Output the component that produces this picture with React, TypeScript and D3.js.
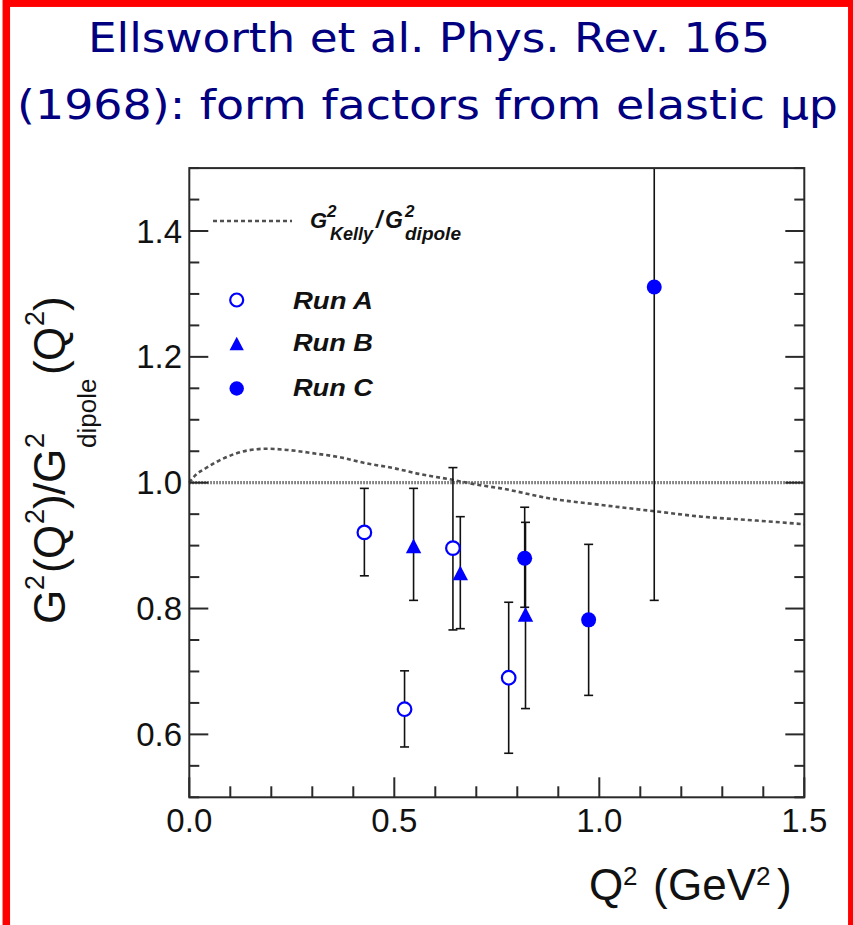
import React from "react";
import * as d3 from "d3";

// ---- data ----
const kellyQ2 = [0.0, 0.015, 0.04, 0.085, 0.14, 0.19, 0.24, 0.30, 0.37, 0.43, 0.50, 0.56, 0.63, 0.71, 0.76, 0.88, 1.0, 1.13, 1.25, 1.38, 1.5];
const kellyRatio = [1.0, 1.012, 1.023, 1.039, 1.051, 1.054, 1.052, 1.047, 1.04, 1.031, 1.023, 1.014, 1.006, 0.996, 0.991, 0.975, 0.965, 0.955, 0.946, 0.94, 0.934];

// [Q2, value, upper, lower]
const runA = [
  [0.427, 0.921, 0.991, 0.852],
  [0.525, 0.64, 0.701, 0.58],
  [0.643, 0.896, 1.024, 0.766],
  [0.779, 0.69, 0.81, 0.57],
];
const runB = [
  [0.547, 0.898, 0.991, 0.813],
  [0.661, 0.855, 0.946, 0.768],
  [0.82, 0.789, 0.937, 0.641],
];
const runC = [
  [0.818, 0.88, 0.961, 0.802],
  [0.974, 0.782, 0.902, 0.662],
  [1.134, 1.311, 1.81, 0.813],
];

const xTickLabels = ["0.0", "0.5", "1.0", "1.5"];
const yTickLabels = ["0.6", "0.8", "1.0", "1.2", "1.4"];
const legendRuns = ["Run A", "Run B", "Run C"];

const BLUE = "#0000ff";
const AXIS = "#2a2a2a";
const GRAY = "#505050";

export default function App() {
  const x = d3.scaleLinear().domain([0, 1.5]).range([189.3, 804.3]);
  const y = d3.scaleLinear().domain([0.5, 1.5]).range([797.3, 168.1]);
  const [x0, x1] = x.range();
  const [yb, yt] = y.range();

  const line = d3
    .line<number>()
    .x((_, i) => x(kellyQ2[i]))
    .y((d) => y(d))
    .curve(d3.curveMonotoneX);

  const yTicks = d3.range(0, 21).map((i) => 0.5 + i * 0.05);
  const xTicks = d3.range(0, 16).map((i) => i * 0.1);
  const isMajorY = (v: number) => Math.abs(Math.round(v * 5) - v * 5) < 1e-6 && v > 0.55;
  const isMajorX = (v: number) => Math.abs(Math.round(v * 2) - v * 2) < 1e-6;

  const errBars = (data: number[][], key: string) =>
    data.map((d, i) => {
      const cx = x(d[0]);
      return (
        <g key={key + i} stroke="#111" strokeWidth={1.6}>
          <line x1={cx} x2={cx} y1={y(d[2])} y2={y(d[3])} />
          {d[2] <= 1.5 && <line x1={cx - 4.5} x2={cx + 4.5} y1={y(d[2])} y2={y(d[2])} />}
          <line x1={cx - 4.5} x2={cx + 4.5} y1={y(d[3])} y2={y(d[3])} />
        </g>
      );
    });

  const tri = (cx: number, cy: number, s: number) =>
    `M${cx},${cy - s * 0.6}L${cx + s * 0.55},${cy + s * 0.45}L${cx - s * 0.55},${cy + s * 0.45}Z`;

  const font = "'Liberation Sans', Arial, Helvetica, sans-serif";

  return (
    <svg width={853} height={925} style={{ position: "absolute", left: 0, top: 0, background: "#fff" }}>
      <rect x={0} y={0} width={853} height={925} fill="#fff" />
      {/* red frame */}
      <rect x={6.3} y={3.2} width={845.5} height={940} fill="none" stroke="#ff0000" strokeWidth={7.5} />

      {/* title */}
      <g fill="#000080" fontFamily="'DejaVu Sans', sans-serif" fontSize={41}>
        <text x={88} y={52} textLength={682} lengthAdjust="spacingAndGlyphs">
          Ellsworth et al. Phys. Rev. 165
        </text>
        <text x={17} y={119} textLength={821} lengthAdjust="spacingAndGlyphs">
          (1968): form factors from elastic μp
        </text>
      </g>

      <defs>
        <clipPath id="plotclip">
          <rect x={x0} y={yt} width={x1 - x0} height={yb - yt} />
        </clipPath>
      </defs>

      {/* dotted line at 1.0 */}
      <line x1={x0} x2={x1} y1={y(1)} y2={y(1)} stroke="#666" strokeWidth={3.2} strokeDasharray="1.5 1.5" />
      {/* Kelly curve */}
      <path d={line(kellyRatio) || ""} fill="none" stroke={GRAY} strokeWidth={2.6} strokeDasharray="4 3" />

      {/* error bars */}
      <g clipPath="url(#plotclip)">
        {errBars(runA, "a")}
        {errBars(runB, "b")}
        {errBars(runC, "c")}
      </g>

      {/* markers */}
      {runA.map((d, i) => (
        <circle key={"ma" + i} cx={x(d[0])} cy={y(d[1])} r={6.8} fill="#fff" stroke={BLUE} strokeWidth={2.2} />
      ))}
      {runB.map((d, i) => (
        <path key={"mb" + i} d={tri(x(d[0]), y(d[1]), 14)} fill={BLUE} />
      ))}
      {runC.map((d, i) => (
        <circle key={"mc" + i} cx={x(d[0])} cy={y(d[1])} r={7.5} fill={BLUE} />
      ))}

      {/* frame */}
      <rect x={x0} y={yt} width={x1 - x0} height={yb - yt} fill="none" stroke={AXIS} strokeWidth={2} />

      {/* y ticks left & right */}
      {yTicks.map((v, i) => {
        const len = isMajorY(v) ? 19 : 10;
        return (
          <g key={"yt" + i} stroke={AXIS} strokeWidth={2}>
            <line x1={x0} x2={x0 + len} y1={y(v)} y2={y(v)} />
            <line x1={x1} x2={x1 - len} y1={y(v)} y2={y(v)} />
          </g>
        );
      })}
      {/* x ticks bottom */}
      {xTicks.map((v, i) => {
        const len = isMajorX(v) ? 20 : 11;
        return <line key={"xt" + i} x1={x(v)} x2={x(v)} y1={yb} y2={yb - len} stroke={AXIS} strokeWidth={2} />;
      })}

      {/* tick labels */}
      <g fontFamily={font} fontSize={33} fill="#111">
        {yTickLabels.map((t) => (
          <text key={"yl" + t} x={182} y={y(+t)} textAnchor="end" dominantBaseline="central">
            {t}
          </text>
        ))}
        {xTickLabels.map((t) => (
          <text key={"xl" + t} x={x(+t)} y={832} textAnchor="middle">
            {t}
          </text>
        ))}
      </g>

      {/* x title */}
      <text fontFamily={font} fill="#111" fontSize={44} y={900}>
        <tspan x={589} y={900}>Q</tspan>
        <tspan x={623} y={885} fontSize={26}>2</tspan>
        <tspan x={653} y={900}>(</tspan>
        <tspan x={668} y={900}>GeV</tspan>
        <tspan x={756} y={885} fontSize={26}>2</tspan>
        <tspan x={777} y={900}>)</tspan>
      </text>

      {/* y title */}
      <g transform="translate(65,624) rotate(-90)">
        <text fontFamily={font} fill="#111" fontSize={44} y={0}>
          <tspan x={0} y={0}>G</tspan>
          <tspan x={34} y={-21} fontSize={27}>2</tspan>
          <tspan x={51} y={0}>(</tspan>
          <tspan x={65} y={0}>Q</tspan>
          <tspan x={100} y={-21} fontSize={27}>2</tspan>
          <tspan x={115} y={0}>)</tspan>
          <tspan x={129} y={0}>/</tspan>
          <tspan x={141} y={0}>G</tspan>
          <tspan x={176} y={-21} fontSize={27}>2</tspan>
          <tspan x={176} y={31} fontSize={26}>dipole</tspan>
          <tspan x={249} y={0}>(</tspan>
          <tspan x={263} y={0}>Q</tspan>
          <tspan x={298} y={-21} fontSize={27}>2</tspan>
          <tspan x={313} y={0}>)</tspan>
        </text>
      </g>

      {/* legend */}
      <line x1={213} x2={292} y1={221} y2={221} stroke={GRAY} strokeWidth={2.6} strokeDasharray="4 3" />
      <text fontFamily={font} fontWeight="bold" fontStyle="italic" fill="#111" fontSize={22} y={228}>
        <tspan x={310} y={228}>G</tspan>
        <tspan x={327} y={217} fontSize={17}>2</tspan>
        <tspan x={330} y={240} fontSize={18}>Kelly</tspan>
        <tspan x={376} y={228} fontSize={23}>/</tspan>
        <tspan x={385} y={228} fontSize={23}>G</tspan>
        <tspan x={405} y={217} fontSize={17}>2</tspan>
        <tspan x={405} y={240} fontSize={19}>dipole</tspan>
      </text>
      <circle cx={236.7} cy={300} r={6.5} fill="#fff" stroke={BLUE} strokeWidth={2.2} />
      <path d={tri(236.7, 344.5, 13)} fill={BLUE} />
      <circle cx={236.7} cy={388.5} r={7.2} fill={BLUE} />
      <g fontFamily={font} fontWeight="bold" fontStyle="italic" fill="#111" fontSize={23}>
        {legendRuns.map((t, i) => (
          <text key={t} x={293} y={[309, 351, 396][i]} textLength={80} lengthAdjust="spacingAndGlyphs">
            {t}
          </text>
        ))}
      </g>
    </svg>
  );
}
